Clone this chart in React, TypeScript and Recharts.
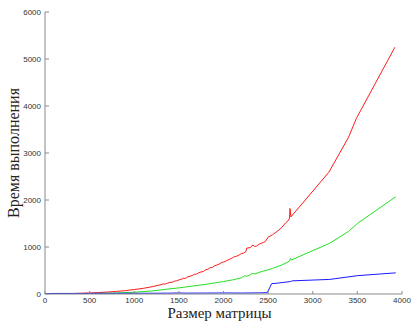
import React from "react";
import { LineChart, Line, XAxis, YAxis, Label } from "recharts";

// matrix size -> execution time, three implementations
const redX = [0, 100, 200, 300, 400, 500, 600, 700, 800, 900, 1000, 1100, 1200, 1300, 1325, 1350, 1375, 1400, 1425, 1450, 1475, 1500, 1525, 1550, 1575, 1600, 1625, 1650, 1675, 1700, 1725, 1750, 1775, 1800, 1825, 1850, 1875, 1900, 1925, 1950, 1975, 2000, 2025, 2050, 2075, 2100, 2125, 2150, 2175, 2200, 2225, 2250, 2260, 2300, 2330, 2350, 2370, 2400, 2450, 2470, 2500, 2550, 2600, 2650, 2700, 2730, 2740, 2745, 2755, 3180, 3400, 3490, 3920];
const redY = [0, 3, 6, 10, 15, 22, 30, 42, 55, 72, 95, 120, 155, 200, 215, 212, 232, 250, 248, 272, 280, 300, 310, 335, 332, 365, 378, 395, 420, 425, 455, 470, 480, 515, 525, 560, 565, 600, 615, 635, 665, 680, 700, 725, 745, 770, 795, 805, 830, 860, 870, 900, 975, 990, 1040, 1010, 1020, 1060, 1100, 1120, 1210, 1260, 1330, 1410, 1520, 1570, 1620, 1820, 1640, 2590, 3330, 3740, 5250];

const greenX = [0, 200, 400, 600, 800, 1000, 1200, 1400, 1500, 1600, 1700, 1800, 1900, 2000, 2100, 2200, 2240, 2260, 2300, 2330, 2350, 2400, 2450, 2500, 2550, 2600, 2650, 2700, 2740, 2750, 2765, 2780, 3190, 3400, 3500, 3930];
const greenY = [0, 3, 6, 12, 22, 38, 65, 110, 130, 155, 180, 205, 235, 265, 300, 345, 390, 375, 410, 440, 425, 460, 490, 515, 545, 580, 615, 660, 700, 760, 720, 740, 1080, 1330, 1500, 2070];

const blueX = [0, 200, 400, 600, 800, 1000, 1200, 1400, 1500, 1600, 1800, 2000, 2200, 2400, 2490, 2540, 2600, 2750, 2770, 3190, 3500, 3930];
const blueY = [10, 12, 12, 14, 15, 15, 16, 18, 22, 18, 20, 22, 20, 24, 28, 220, 230, 265, 280, 310, 390, 450];

const xTicks = [0, 500, 1000, 1500, 2000, 2500, 3000, 3500, 4000];
const yTicks = [0, 1000, 2000, 3000, 4000, 5000, 6000];

const toPoints = (xs: number[], ys: number[]) => xs.map((x, i) => ({ x, y: ys[i] }));

const red = toPoints(redX, redY);
const green = toPoints(greenX, greenY);
const blue = toPoints(blueX, blueY);

const axisColor = "#8a8a8a";
const tickStyle = { fontSize: 8, fill: "#333", fontFamily: "Liberation Sans, Arial, sans-serif" };
const titleFont = "Liberation Serif, Times New Roman, serif";

export default function App() {
  return (
    <div style={{ position: "absolute", left: 0, top: 0, background: "#fff" }}>
      <LineChart width={412} height={323} margin={{ top: 12, right: 10, left: 0, bottom: 0 }}>
        <XAxis
          type="number"
          dataKey="x"
          domain={[0, 4000]}
          ticks={xTicks}
          allowDataOverflow
          height={29}
          stroke={axisColor}
          tickSize={-3}
          tickMargin={6}
          tick={tickStyle}
        >
          <Label
            content={({ viewBox }: any) => (
              <text
                x={viewBox.x + viewBox.width / 2 - 4}
                y={viewBox.y + viewBox.height - 5}
                textAnchor="middle"
                fontSize={15}
                fontFamily={titleFont}
                fill="#222"
              >
                Размер матрицы
              </text>
            )}
          />
        </XAxis>
        <YAxis
          type="number"
          domain={[0, 6000]}
          ticks={yTicks}
          allowDataOverflow
          width={45}
          stroke={axisColor}
          tickSize={-4}
          tickMargin={8}
          tick={tickStyle}
        >
          <Label
            content={({ viewBox }: any) => {
              const cx = viewBox.x + 13;
              const cy = viewBox.y + viewBox.height / 2;
              return (
                <text
                  x={cx}
                  y={cy}
                  transform={`rotate(-90 ${cx} ${cy})`}
                  textAnchor="middle"
                  dominantBaseline="central"
                  fontSize={16}
                  fontFamily={titleFont}
                  fill="#222"
                >
                  Время выполнения
                </text>
              );
            }}
          />
        </YAxis>
        <Line data={red} dataKey="y" stroke="#ff1a1a" strokeWidth={1} dot={false} isAnimationActive={false} type="linear" />
        <Line data={green} dataKey="y" stroke="#22e022" strokeWidth={1} dot={false} isAnimationActive={false} type="linear" />
        <Line data={blue} dataKey="y" stroke="#1a1aff" strokeWidth={1} dot={false} isAnimationActive={false} type="linear" />
      </LineChart>
    </div>
  );
}
